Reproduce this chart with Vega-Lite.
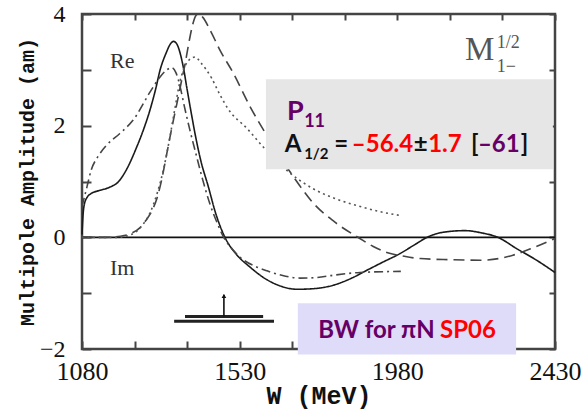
{
  "$schema": "https://vega.github.io/schema/vega-lite/v6.json",
  "width": 473,
  "height": 335,
  "autosize": "none",
  "padding": {"left": 82, "top": 14, "right": 28, "bottom": 65},
  "background": "white",
  "config": {
    "view": {"stroke": "#444", "strokeWidth": 2.5},
    "axis": {"grid": false, "domain": false, "labelFlush": false, "labelOverlap": false, "labelBound": false, "format": "d"}
  },
  "datasets": {
    "curves": [
      {"curve": "re_sp06", "W": 1080, "amp": 0.05},
      {"curve": "re_sp06", "W": 1083, "amp": 0.4},
      {"curve": "re_sp06", "W": 1087, "amp": 0.6},
      {"curve": "re_sp06", "W": 1095, "amp": 0.72},
      {"curve": "re_sp06", "W": 1105, "amp": 0.78},
      {"curve": "re_sp06", "W": 1130, "amp": 0.84},
      {"curve": "re_sp06", "W": 1160, "amp": 0.9},
      {"curve": "re_sp06", "W": 1183, "amp": 0.99},
      {"curve": "re_sp06", "W": 1210, "amp": 1.25},
      {"curve": "re_sp06", "W": 1235, "amp": 1.6},
      {"curve": "re_sp06", "W": 1255, "amp": 1.92},
      {"curve": "re_sp06", "W": 1274, "amp": 2.28},
      {"curve": "re_sp06", "W": 1290, "amp": 2.65},
      {"curve": "re_sp06", "W": 1303, "amp": 3.0},
      {"curve": "re_sp06", "W": 1320, "amp": 3.3},
      {"curve": "re_sp06", "W": 1332, "amp": 3.46},
      {"curve": "re_sp06", "W": 1341, "amp": 3.51},
      {"curve": "re_sp06", "W": 1350, "amp": 3.47},
      {"curve": "re_sp06", "W": 1360, "amp": 3.3},
      {"curve": "re_sp06", "W": 1370, "amp": 3.02},
      {"curve": "re_sp06", "W": 1380, "amp": 2.65},
      {"curve": "re_sp06", "W": 1392, "amp": 2.22},
      {"curve": "re_sp06", "W": 1405, "amp": 1.78},
      {"curve": "re_sp06", "W": 1420, "amp": 1.35},
      {"curve": "re_sp06", "W": 1440, "amp": 0.92},
      {"curve": "re_sp06", "W": 1462, "amp": 0.42},
      {"curve": "re_sp06", "W": 1488, "amp": 0.0},
      {"curve": "re_sp06", "W": 1520, "amp": -0.3},
      {"curve": "re_sp06", "W": 1559, "amp": -0.53},
      {"curve": "re_sp06", "W": 1608, "amp": -0.76},
      {"curve": "re_sp06", "W": 1650, "amp": -0.88},
      {"curve": "re_sp06", "W": 1693, "amp": -0.93},
      {"curve": "re_sp06", "W": 1740, "amp": -0.92},
      {"curve": "re_sp06", "W": 1796, "amp": -0.86},
      {"curve": "re_sp06", "W": 1850, "amp": -0.73},
      {"curve": "re_sp06", "W": 1893, "amp": -0.59},
      {"curve": "re_sp06", "W": 1940, "amp": -0.44},
      {"curve": "re_sp06", "W": 1988, "amp": -0.29},
      {"curve": "re_sp06", "W": 2030, "amp": -0.13},
      {"curve": "re_sp06", "W": 2065, "amp": 0.0},
      {"curve": "re_sp06", "W": 2110, "amp": 0.09},
      {"curve": "re_sp06", "W": 2173, "amp": 0.12},
      {"curve": "re_sp06", "W": 2220, "amp": 0.08},
      {"curve": "re_sp06", "W": 2267, "amp": 0.0},
      {"curve": "re_sp06", "W": 2320, "amp": -0.2},
      {"curve": "re_sp06", "W": 2380, "amp": -0.42},
      {"curve": "re_sp06", "W": 2430, "amp": -0.63},

      {"curve": "im_sp06", "W": 1080, "amp": 0.0},
      {"curve": "im_sp06", "W": 1150, "amp": 0.0},
      {"curve": "im_sp06", "W": 1190, "amp": 0.02},
      {"curve": "im_sp06", "W": 1220, "amp": 0.07},
      {"curve": "im_sp06", "W": 1245, "amp": 0.17},
      {"curve": "im_sp06", "W": 1262, "amp": 0.3},
      {"curve": "im_sp06", "W": 1280, "amp": 0.48},
      {"curve": "im_sp06", "W": 1294, "amp": 0.7},
      {"curve": "im_sp06", "W": 1308, "amp": 1.05},
      {"curve": "im_sp06", "W": 1322, "amp": 1.5},
      {"curve": "im_sp06", "W": 1336, "amp": 1.95},
      {"curve": "im_sp06", "W": 1351, "amp": 2.4},
      {"curve": "im_sp06", "W": 1364, "amp": 2.8},
      {"curve": "im_sp06", "W": 1374, "amp": 3.1},
      {"curve": "im_sp06", "W": 1384, "amp": 3.45},
      {"curve": "im_sp06", "W": 1394, "amp": 3.76},
      {"curve": "im_sp06", "W": 1403, "amp": 3.95},
      {"curve": "im_sp06", "W": 1411, "amp": 4.0},
      {"curve": "im_sp06", "W": 1425, "amp": 3.94},
      {"curve": "im_sp06", "W": 1445, "amp": 3.72},
      {"curve": "im_sp06", "W": 1474, "amp": 3.35},
      {"curve": "im_sp06", "W": 1511, "amp": 2.95},
      {"curve": "im_sp06", "W": 1559, "amp": 2.35},
      {"curve": "im_sp06", "W": 1610, "amp": 1.8},
      {"curve": "im_sp06", "W": 1654, "amp": 1.36},
      {"curve": "im_sp06", "W": 1702, "amp": 0.92},
      {"curve": "im_sp06", "W": 1739, "amp": 0.62},
      {"curve": "im_sp06", "W": 1800, "amp": 0.28},
      {"curve": "im_sp06", "W": 1873, "amp": -0.02},
      {"curve": "im_sp06", "W": 1910, "amp": -0.16},
      {"curve": "im_sp06", "W": 1950, "amp": -0.27},
      {"curve": "im_sp06", "W": 2000, "amp": -0.34},
      {"curve": "im_sp06", "W": 2045, "amp": -0.38},
      {"curve": "im_sp06", "W": 2130, "amp": -0.4},
      {"curve": "im_sp06", "W": 2216, "amp": -0.41},
      {"curve": "im_sp06", "W": 2270, "amp": -0.38},
      {"curve": "im_sp06", "W": 2310, "amp": -0.32},
      {"curve": "im_sp06", "W": 2370, "amp": -0.18},
      {"curve": "im_sp06", "W": 2430, "amp": -0.02},

      {"curve": "re_maid", "W": 1080, "amp": 0.55},
      {"curve": "re_maid", "W": 1088, "amp": 0.75},
      {"curve": "re_maid", "W": 1094, "amp": 0.9},
      {"curve": "re_maid", "W": 1106, "amp": 1.2},
      {"curve": "re_maid", "W": 1126, "amp": 1.45},
      {"curve": "re_maid", "W": 1150, "amp": 1.65},
      {"curve": "re_maid", "W": 1188, "amp": 1.86},
      {"curve": "re_maid", "W": 1226, "amp": 2.1},
      {"curve": "re_maid", "W": 1274, "amp": 2.6},
      {"curve": "re_maid", "W": 1300, "amp": 2.85},
      {"curve": "re_maid", "W": 1322, "amp": 3.0},
      {"curve": "re_maid", "W": 1336, "amp": 3.04},
      {"curve": "re_maid", "W": 1348, "amp": 2.95},
      {"curve": "re_maid", "W": 1360, "amp": 2.7},
      {"curve": "re_maid", "W": 1372, "amp": 2.35},
      {"curve": "re_maid", "W": 1388, "amp": 1.92},
      {"curve": "re_maid", "W": 1405, "amp": 1.5},
      {"curve": "re_maid", "W": 1425, "amp": 1.02},
      {"curve": "re_maid", "W": 1445, "amp": 0.6},
      {"curve": "re_maid", "W": 1465, "amp": 0.27},
      {"curve": "re_maid", "W": 1482, "amp": 0.03},
      {"curve": "re_maid", "W": 1510, "amp": -0.22},
      {"curve": "re_maid", "W": 1540, "amp": -0.4},
      {"curve": "re_maid", "W": 1575, "amp": -0.52},
      {"curve": "re_maid", "W": 1608, "amp": -0.6},
      {"curve": "re_maid", "W": 1650, "amp": -0.68},
      {"curve": "re_maid", "W": 1702, "amp": -0.73},
      {"curve": "re_maid", "W": 1750, "amp": -0.72},
      {"curve": "re_maid", "W": 1796, "amp": -0.68},
      {"curve": "re_maid", "W": 1873, "amp": -0.63},
      {"curve": "re_maid", "W": 1990, "amp": -0.61},

      {"curve": "im_maid", "W": 1080, "amp": 0.0},
      {"curve": "im_maid", "W": 1180, "amp": 0.0},
      {"curve": "im_maid", "W": 1220, "amp": 0.05},
      {"curve": "im_maid", "W": 1250, "amp": 0.2},
      {"curve": "im_maid", "W": 1275, "amp": 0.45},
      {"curve": "im_maid", "W": 1295, "amp": 0.8},
      {"curve": "im_maid", "W": 1312, "amp": 1.2},
      {"curve": "im_maid", "W": 1331, "amp": 1.8},
      {"curve": "im_maid", "W": 1345, "amp": 2.3},
      {"curve": "im_maid", "W": 1360, "amp": 2.8},
      {"curve": "im_maid", "W": 1375, "amp": 3.08},
      {"curve": "im_maid", "W": 1390, "amp": 3.2},
      {"curve": "im_maid", "W": 1403, "amp": 3.23},
      {"curve": "im_maid", "W": 1420, "amp": 3.12},
      {"curve": "im_maid", "W": 1450, "amp": 2.85},
      {"curve": "im_maid", "W": 1474, "amp": 2.55},
      {"curve": "im_maid", "W": 1497, "amp": 2.3},
      {"curve": "im_maid", "W": 1551, "amp": 1.95},
      {"curve": "im_maid", "W": 1600, "amp": 1.6},
      {"curve": "im_maid", "W": 1674, "amp": 1.15},
      {"curve": "im_maid", "W": 1740, "amp": 0.87},
      {"curve": "im_maid", "W": 1800, "amp": 0.7},
      {"curve": "im_maid", "W": 1870, "amp": 0.56},
      {"curve": "im_maid", "W": 1930, "amp": 0.46},
      {"curve": "im_maid", "W": 1990, "amp": 0.39}
    ]
  },
  "layer": [
    {
      "data": {"values": [{"W": 1080, "W2": 2430, "amp": 0}]},
      "mark": {"type": "rule", "color": "#111", "strokeWidth": 1.8},
      "encoding": {
        "x": {"field": "W", "type": "quantitative", "scale": {"domain": [1080, 2430], "nice": false, "zero": false},
          "axis": {"orient": "bottom", "values": [1080, 1230, 1380, 1530, 1680, 1830, 1980, 2130, 2280, 2430], "labels": false, "ticks": true, "tickSize": -8, "tickWidth": 2, "tickColor": "#444", "title": null}},
        "x2": {"field": "W2"},
        "y": {"field": "amp", "type": "quantitative", "scale": {"domain": [-2, 4], "nice": false, "zero": false},
          "axis": {"orient": "left", "values": [-2, -1, 0, 1, 2, 3, 4], "labels": false, "ticks": true, "tickSize": -9, "tickWidth": 2, "tickColor": "#444", "title": null}}
      }
    },
    {
      "data": {"name": "curves"},
      "mark": {"type": "line", "strokeWidth": 1.6, "interpolate": "monotone"},
      "encoding": {
        "x": {"field": "W", "type": "quantitative", "scale": {"domain": [1080, 2430], "nice": false, "zero": false},
          "axis": {"orient": "bottom", "values": [1080, 1530, 1980, 2430], "format": "d", "ticks": false, "labelFont": "Liberation Serif", "labelFontSize": 26, "labelColor": "#111", "labelPadding": 9,
            "title": "W (MeV)", "titleFont": "Liberation Mono", "titleFontWeight": "bold", "titleFontSize": 25, "titleColor": "#111", "titleX": 236.5, "titleY": 54, "titleBaseline": "alphabetic", "titleAlign": "center"}},
        "y": {"field": "amp", "type": "quantitative", "scale": {"domain": [-2, 4], "nice": false, "zero": false},
          "axis": {"orient": "left", "values": [-2, 0, 2, 4], "format": "d", "ticks": false, "labelFont": "Liberation Serif", "labelFontSize": 24, "labelColor": "#111", "labelPadding": 17,
            "title": "Multipole Amplitude (am)", "titleFont": "Liberation Mono", "titleFontWeight": "bold", "titleFontSize": 20, "titleColor": "#111", "titleX": -49, "titleY": 167.5, "titleAngle": -90, "titleBaseline": "alphabetic", "titleAlign": "center"}},
        "strokeDash": {"field": "curve", "type": "nominal", "scale": {"domain": ["re_sp06", "im_sp06", "re_maid", "im_maid"], "range": [[1, 0], [11, 6], [9, 4, 2, 4], [2, 3.5]]}, "legend": null},
        "color": {"field": "curve", "type": "nominal", "scale": {"domain": ["re_sp06", "im_sp06", "re_maid", "im_maid"], "range": ["#1a1a1a", "#444444", "#444444", "#555555"]}, "legend": null}
      }
    },
    {
      "data": {"values": [{"bar": "upper", "W": 1374, "W2": 1597, "amp": -1.42}, {"bar": "lower", "W": 1343, "W2": 1628, "amp": -1.505}]},
      "mark": {"type": "rule", "color": "#222", "strokeWidth": 3},
      "encoding": {
        "x": {"field": "W", "type": "quantitative", "scale": {"domain": [1080, 2430], "nice": false, "zero": false},
          "axis": {"orient": "top", "values": [1080, 1230, 1380, 1530, 1680, 1830, 1980, 2130, 2280, 2430], "labels": false, "ticks": true, "tickSize": -6, "tickWidth": 2, "tickColor": "#444", "title": null}},
        "x2": {"field": "W2"},
        "y": {"field": "amp", "type": "quantitative", "scale": {"domain": [-2, 4], "nice": false, "zero": false},
          "axis": {"orient": "right", "values": [-2, -1, 0, 1, 2, 3, 4], "labels": false, "ticks": true, "tickSize": -6, "tickWidth": 2, "tickColor": "#444", "title": null}}
      }
    },
    {
      "data": {"values": [{"W": 1485, "amp": -1.42, "amp2": -1.03}]},
      "mark": {"type": "rule", "color": "#111", "strokeWidth": 1.6},
      "encoding": {
        "x": {"field": "W", "type": "quantitative", "axis": null},
        "y": {"field": "amp", "type": "quantitative", "axis": null},
        "y2": {"field": "amp2"}
      }
    },
    {
      "data": {"values": [{"W": 1485, "amp": -1.05}]},
      "mark": {"type": "point", "shape": "triangle-up", "filled": true, "color": "#111", "size": 22, "opacity": 1},
      "encoding": {
        "x": {"field": "W", "type": "quantitative", "axis": null},
        "y": {"field": "amp", "type": "quantitative", "axis": null}
      }
    },
    {
      "data": {"values": [{"W": 1160, "amp": 3.03, "label": "Re"}, {"W": 1160, "amp": -0.68, "label": "Im"}]},
      "mark": {"type": "text", "font": "Liberation Serif", "fontSize": 22, "color": "#333", "align": "left", "baseline": "alphabetic"},
      "encoding": {
        "x": {"field": "W", "type": "quantitative", "axis": null},
        "y": {"field": "amp", "type": "quantitative", "axis": null},
        "text": {"field": "label"}
      }
    },
    {
      "data": {"values": [{"W": 2173, "amp": 3.17, "label": "M"}]},
      "mark": {"type": "text", "font": "Liberation Serif", "fontSize": 33, "color": "#555", "align": "left", "baseline": "alphabetic"},
      "encoding": {
        "x": {"field": "W", "type": "quantitative", "axis": null},
        "y": {"field": "amp", "type": "quantitative", "axis": null},
        "text": {"field": "label"}
      }
    },
    {
      "data": {"values": [{"W": 2264, "amp": 3.4, "label": "1/2"}, {"W": 2264, "amp": 2.96, "label": "1−"}]},
      "mark": {"type": "text", "font": "Liberation Serif", "fontSize": 18, "color": "#555", "align": "left", "baseline": "alphabetic"},
      "encoding": {
        "x": {"field": "W", "type": "quantitative", "axis": null},
        "y": {"field": "amp", "type": "quantitative", "axis": null},
        "text": {"field": "label"}
      }
    },
    {
      "data": {"values": [{"box": "P11", "W": 1605, "W2": 2424, "amp": 2.83, "amp2": 1.22}]},
      "mark": {"type": "rect", "color": "#e6e6e6"},
      "encoding": {
        "x": {"field": "W", "type": "quantitative", "axis": null},
        "x2": {"field": "W2"},
        "y": {"field": "amp", "type": "quantitative", "axis": null},
        "y2": {"field": "amp2"}
      }
    },
    {
      "data": {"values": [{"box": "BW", "W": 1696, "W2": 2319, "amp": -1.18, "amp2": -2.1}]},
      "mark": {"type": "rect", "color": "#dedcf8"},
      "encoding": {
        "x": {"field": "W", "type": "quantitative", "axis": null},
        "x2": {"field": "W2"},
        "y": {"field": "amp", "type": "quantitative", "axis": null},
        "y2": {"field": "amp2"}
      }
    },
    {
      "data": {"values": [{"W": 1665, "amp": 2.11, "label": "P"}]},
      "mark": {"type": "text", "font": "Lato", "fontWeight": "bold", "fontSize": 27, "color": "#660066", "align": "left", "baseline": "alphabetic"},
      "encoding": {
        "x": {"field": "W", "type": "quantitative", "axis": null},
        "y": {"field": "amp", "type": "quantitative", "axis": null},
        "text": {"field": "label"}
      }
    },
    {
      "data": {"values": [{"W": 1714, "amp": 1.97, "label": "11"}]},
      "mark": {"type": "text", "font": "Lato", "fontWeight": "bold", "fontSize": 18, "color": "#660066", "align": "left", "baseline": "alphabetic"},
      "encoding": {
        "x": {"field": "W", "type": "quantitative", "axis": null},
        "y": {"field": "amp", "type": "quantitative", "axis": null},
        "text": {"field": "label"}
      }
    },
    {
      "data": {"values": [
        {"W": 1659, "amp": 1.52, "label": "A"},
        {"W": 1800, "amp": 1.52, "label": "="},
        {"W": 2027, "amp": 1.52, "label": "±"},
        {"W": 2190, "amp": 1.52, "label": "["},
        {"W": 2332, "amp": 1.52, "label": "]"}
      ]},
      "mark": {"type": "text", "font": "Lato", "fontWeight": "bold", "fontSize": 24, "color": "#111", "align": "left", "baseline": "alphabetic"},
      "encoding": {
        "x": {"field": "W", "type": "quantitative", "axis": null},
        "y": {"field": "amp", "type": "quantitative", "axis": null},
        "text": {"field": "label"}
      }
    },
    {
      "data": {"values": [{"W": 1714, "amp": 1.4, "label": "1/2"}]},
      "mark": {"type": "text", "font": "Lato", "fontWeight": "bold", "fontSize": 15, "color": "#111", "align": "left", "baseline": "alphabetic"},
      "encoding": {
        "x": {"field": "W", "type": "quantitative", "axis": null},
        "y": {"field": "amp", "type": "quantitative", "axis": null},
        "text": {"field": "label"}
      }
    },
    {
      "data": {"values": [
        {"W": 1850, "amp": 1.52, "label": "–56.4"},
        {"W": 2068, "amp": 1.52, "label": "1.7"},
        {"W": 2102, "amp": -1.81, "label": "SP06"}
      ]},
      "mark": {"type": "text", "font": "Lato", "fontWeight": "bold", "fontSize": 24, "color": "#ff0000", "align": "left", "baseline": "alphabetic"},
      "encoding": {
        "x": {"field": "W", "type": "quantitative", "axis": null},
        "y": {"field": "amp", "type": "quantitative", "axis": null},
        "text": {"field": "label"}
      }
    },
    {
      "data": {"values": [
        {"W": 2210, "amp": 1.52, "label": "–61"},
        {"W": 1754, "amp": -1.81, "label": "BW for πN"}
      ]},
      "mark": {"type": "text", "font": "Lato", "fontWeight": "bold", "fontSize": 24, "color": "#660066", "align": "left", "baseline": "alphabetic"},
      "encoding": {
        "x": {"field": "W", "type": "quantitative", "axis": null},
        "y": {"field": "amp", "type": "quantitative", "axis": null},
        "text": {"field": "label"}
      }
    }
  ],
  "resolve": {"axis": {"x": "independent", "y": "independent"}}
}
